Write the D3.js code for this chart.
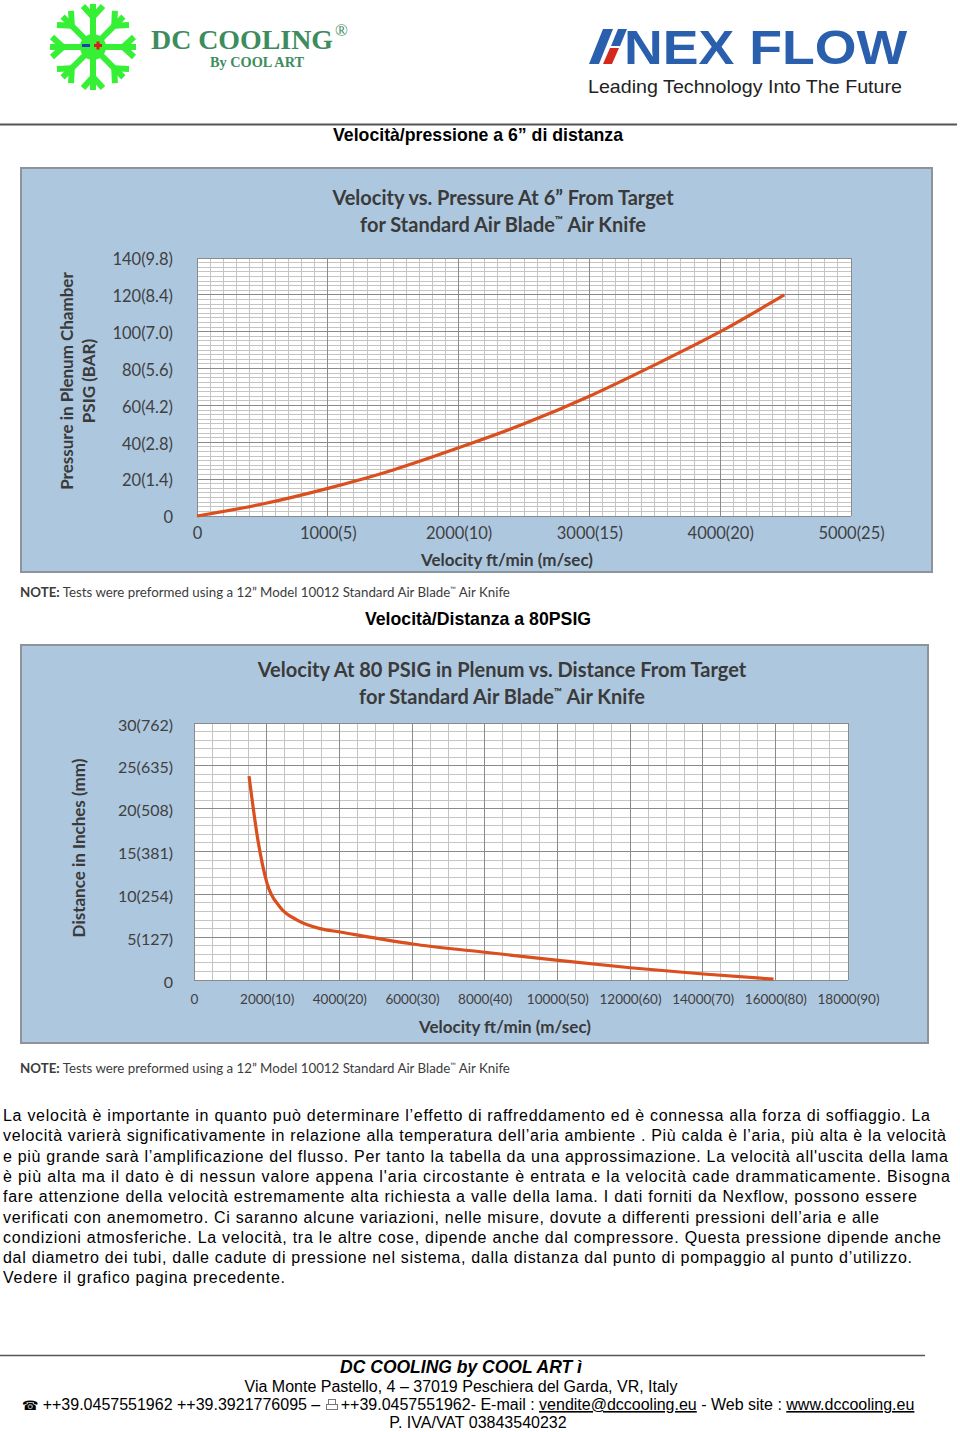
<!DOCTYPE html>
<html><head><meta charset="utf-8">
<script src="https://cdn.jsdelivr.net/npm/d3@7"></script>
<style>body{margin:0;background:#fff} svg{display:block}</style>
</head><body>
<script>
// ---------- DATA ----------
const velocity1 = [0, 500, 1000, 1500, 2000, 2500, 3000, 3500, 4000, 4490];
const pressure1 = [0, 6.5, 15, 25, 37, 50, 65, 82, 100, 120];
const xTicks1 = [0, 1000, 2000, 3000, 4000, 5000];
const xLabels1 = ["0", "1000(5)", "2000(10)", "3000(15)", "4000(20)", "5000(25)"];
const yTicks1 = [0, 20, 40, 60, 80, 100, 120, 140];
const yLabels1 = ["0", "20(1.4)", "40(2.8)", "60(4.2)", "80(5.6)", "100(7.0)", "120(8.4)", "140(9.8)"];

const velocity2 = [1515, 1760, 2010, 2370, 2840, 3470, 4020, 5320, 6010, 7880, 10030, 12010, 14020, 15950];
const distance2 = [23.8, 16.3, 11.3, 8.5, 7.0, 6.0, 5.6, 4.65, 4.2, 3.3, 2.3, 1.43, 0.7, 0.1];
const xTicks2 = [0, 2000, 4000, 6000, 8000, 10000, 12000, 14000, 16000, 18000];
const xLabels2 = ["0", "2000(10)", "4000(20)", "6000(30)", "8000(40)", "10000(50)", "12000(60)", "14000(70)", "16000(80)", "18000(90)"];
const yTicks2 = [0, 5, 10, 15, 20, 25, 30];
const yLabels2 = ["0", "5(127)", "10(254)", "15(381)", "20(508)", "25(635)", "30(762)"];

const bodyLines = [
 "La velocità è importante in quanto può determinare l’effetto di raffreddamento ed è connessa alla forza di soffiaggio. La",
 "velocità varierà significativamente in relazione alla temperatura dell’aria ambiente . Più calda è l’aria, più alta è la velocità",
 "e più grande sarà l’amplificazione del flusso. Per tanto la tabella da una approssimazione. La velocità all'uscita della lama",
 "è più alta ma il dato è di nessun valore appena l'aria circostante è entrata e la velocità cade drammaticamente. Bisogna",
 "fare attenzione della velocità estremamente alta richiesta a valle  della lama. I dati forniti da Nexflow, possono essere",
 "verificati con anemometro. Ci saranno alcune variazioni, nelle misure, dovute a differenti pressioni dell’aria e alle",
 "condizioni atmosferiche. La velocità, tra le altre cose, dipende anche dal compressore. Questa pressione dipende anche",
 "dal diametro dei tubi, dalle cadute di pressione nel sistema, dalla distanza dal punto di pompaggio al punto d’utilizzo.",
 "Vedere il grafico pagina precedente."
];
const bodyEnds = [930, 946, 948, 950, 917, 879, 941, 912, 285];

// ---------- PAGE ----------
const svg = d3.select("body").append("svg").attr("width", 960).attr("height", 1432)
  .style("font-family", "'Liberation Sans', Arial, sans-serif");

// Header logos
const flake = svg.append("g").attr("transform", "translate(93,47)")
  .attr("stroke", "#35f035").attr("stroke-width", 6).attr("stroke-linecap", "butt").attr("fill", "none");
d3.range(8).forEach(i => {
  const g = flake.append("g").attr("transform", `rotate(${i * 45})`);
  g.append("line").attr("x1", 0).attr("y1", 0).attr("x2", 0).attr("y2", -43);
  g.append("line").attr("x1", 0).attr("y1", -30).attr("x2", -10).attr("y2", -41);
  g.append("line").attr("x1", 0).attr("y1", -30).attr("x2", 10).attr("y2", -41);
});
flake.append("circle").attr("r", 13).attr("fill", "#35f035").attr("stroke", "none");
svg.append("rect").attr("x", 82).attr("y", 44).attr("width", 8).attr("height", 3).attr("fill", "#1d3fb8");
svg.append("rect").attr("x", 94).attr("y", 44).attr("width", 8).attr("height", 3).attr("fill", "#d81d1d");
svg.append("rect").attr("x", 96.5).attr("y", 41.5).attr("width", 3).attr("height", 8).attr("fill", "#d81d1d");

svg.append("text").attr("x", 151).attr("y", 49).attr("font-family", "'Liberation Serif', 'Times New Roman', serif")
  .attr("font-weight", "bold").attr("font-size", 28).attr("fill", "#3d8c5e")
  .attr("textLength", 182).attr("lengthAdjust", "spacingAndGlyphs").text("DC COOLING");
svg.append("text").attr("x", 335).attr("y", 36).attr("font-family", "'Liberation Serif', serif")
  .attr("font-size", 17).attr("fill", "#3d8c5e").text("®");
svg.append("text").attr("x", 210).attr("y", 67).attr("font-family", "'Liberation Serif', serif")
  .attr("font-weight", "bold").attr("font-size", 14).attr("fill", "#3d8c5e")
  .attr("textLength", 94).attr("lengthAdjust", "spacingAndGlyphs").text("By COOL ART");

// NEX FLOW logo
svg.append("polygon").attr("points", "589,64 599,64 613,29 603,29").attr("fill", "#2a5fae");
svg.append("polygon").attr("points", "603,64 612,64 619,48 610,48").attr("fill", "#d42a1e");
svg.append("polygon").attr("points", "611,46 620,46 627,29 618,29").attr("fill", "#2a5fae");
svg.append("text").attr("x", 624).attr("y", 64).attr("font-weight", "bold").attr("font-size", 49)
  .attr("fill", "#2a5fae").attr("textLength", 283).attr("lengthAdjust", "spacingAndGlyphs").text("NEX FLOW");
svg.append("text").attr("x", 588).attr("y", 93).attr("font-size", 19).attr("fill", "#222")
  .attr("textLength", 314).attr("lengthAdjust", "spacingAndGlyphs").text("Leading Technology Into The Future");

svg.append("line").attr("x1", 0).attr("x2", 957).attr("y1", 124.5).attr("y2", 124.5).attr("stroke", "#555").attr("stroke-width", 2);

svg.append("text").attr("x", 478).attr("y", 141).attr("text-anchor", "middle").attr("font-weight", "bold")
  .attr("font-size", 17.7).text("Velocità/pressione a 6” di distanza");
svg.append("text").attr("x", 478).attr("y", 625).attr("text-anchor", "middle").attr("font-weight", "bold")
  .attr("font-size", 17.7).text("Velocità/Distanza a 80PSIG");

// ---------- CHART FUNCTION ----------
const chartFont = "Lato, 'Open Sans', sans-serif";
function drawChart(c) {
  const g = svg.append("g").style("font-family", chartFont);
  g.append("rect").attr("x", c.panel[0]).attr("y", c.panel[1]).attr("width", c.panel[2] - c.panel[0])
    .attr("height", c.panel[3] - c.panel[1]).attr("fill", "#adc7df").attr("stroke", "#8e9399").attr("stroke-width", 2);

  const x = d3.scaleLinear().domain(c.xDomain).range(c.xRange);
  const y = d3.scaleLinear().domain(c.yDomain).range(c.yRange);

  g.append("rect").attr("x", c.xRange[0]).attr("y", c.yRange[1]).attr("width", c.xRange[1] - c.xRange[0])
    .attr("height", c.yRange[0] - c.yRange[1]).attr("fill", "#fff");

  const grid = g.append("g").attr("shape-rendering", "crispEdges");
  const minorX = d3.range(c.xDomain[0], c.xDomain[1] + 1e-9, c.minorX);
  const minorY = d3.range(c.yDomain[0], c.yDomain[1] + 1e-9, c.minorY);
  grid.selectAll(".mx").data(minorX).join("line").attr("x1", d => x(d)).attr("x2", d => x(d))
    .attr("y1", c.yRange[0]).attr("y2", c.yRange[1]).attr("stroke", "#c4c4c4").attr("stroke-width", 1);
  grid.selectAll(".my").data(minorY).join("line").attr("y1", d => y(d)).attr("y2", d => y(d))
    .attr("x1", c.xRange[0]).attr("x2", c.xRange[1]).attr("stroke", "#c4c4c4").attr("stroke-width", 1);
  const majorX = d3.range(c.xDomain[0], c.xDomain[1] + 1e-9, c.majorX);
  const majorY = d3.range(c.yDomain[0], c.yDomain[1] + 1e-9, c.majorY);
  grid.selectAll(".Mx").data(majorX).join("line").attr("x1", d => x(d)).attr("x2", d => x(d))
    .attr("y1", c.yRange[0]).attr("y2", c.yRange[1]).attr("stroke", "#8a8a8a").attr("stroke-width", 1);
  grid.selectAll(".My").data(majorY).join("line").attr("y1", d => y(d)).attr("y2", d => y(d))
    .attr("x1", c.xRange[0]).attr("x2", c.xRange[1]).attr("stroke", "#8a8a8a").attr("stroke-width", 1);

  const pts = c.xs.map((v, i) => [v, c.ys[i]]);
  g.append("path").datum(pts).attr("fill", "none").attr("stroke", "#da4f1d").attr("stroke-width", 3.2)
    .attr("d", d3.line().x(d => x(d[0])).y(d => y(d[1])).curve(d3.curveMonotoneX));

  const xa = g.append("g").attr("transform", `translate(0,${c.xAxisY})`)
    .call(d3.axisBottom(x).tickValues(c.xTicks).tickSize(0).tickPadding(0).tickFormat((d, i) => c.xLabels[i]));
  xa.select(".domain").remove();
  xa.selectAll("text").attr("font-family", chartFont).attr("font-size", c.xFont).attr("fill", "#404040").attr("dy", "0.35em");

  const ya = g.append("g").attr("transform", `translate(${c.yAxisX},0)`)
    .call(d3.axisLeft(y).tickValues(c.yTicks).tickSize(0).tickPadding(0).tickFormat((d, i) => c.yLabels[i]));
  ya.select(".domain").remove();
  ya.selectAll("text").attr("font-family", chartFont).attr("font-size", c.yFont).attr("fill", "#404040")
    .attr("transform", `translate(0,${c.yLabelShift})`);

  c.title.forEach((t, i) => {
    const tx = g.append("text").attr("x", c.titleX).attr("y", c.titleY + i * 26.5).attr("text-anchor", "middle")
      .attr("font-weight", "bold").attr("font-size", 20).attr("fill", "#3a3a3a");
    if (i === 0) tx.text(t);
    else {
      tx.append("tspan").text("for Standard Air Blade");
      tx.append("tspan").attr("font-size", 11).attr("dy", -8).text("™");
      tx.append("tspan").attr("dy", 8).text(" Air Knife");
    }
  });
  g.append("text").attr("x", c.xTitleX).attr("y", c.xTitleY).attr("text-anchor", "middle").attr("font-weight", "bold")
    .attr("font-size", 17).attr("fill", "#3a3a3a").text("Velocity ft/min (m/sec)");
  c.yTitle.forEach((t, i) => {
    g.append("text").attr("transform", `translate(${c.yTitleX[i]},${c.yTitleY}) rotate(-90)`).attr("text-anchor", "middle")
      .attr("font-weight", "bold").attr("font-size", 17).attr("fill", "#3a3a3a").text(t);
  });

  const note = g.append("text").attr("x", 20).attr("y", c.noteY).attr("font-size", 13.3).attr("fill", "#3c3c3c");
  note.append("tspan").attr("font-weight", "bold").text("NOTE:");
  note.append("tspan").text(" Tests were preformed using a 12” Model 10012 Standard Air Blade");
  note.append("tspan").attr("font-size", 7.5).attr("dy", -5).text("™");
  note.append("tspan").attr("dy", 5).text(" Air Knife");
}

drawChart({
  panel: [21, 168, 932, 572],
  xDomain: [0, 5000], xRange: [197, 851],
  yDomain: [0, 140], yRange: [516, 258],
  minorX: 100, majorX: 1000, minorY: 2.5, majorY: 20,
  xs: velocity1, ys: pressure1,
  xTicks: xTicks1, xLabels: xLabels1, yTicks: yTicks1, yLabels: yLabels1,
  xAxisY: 533, xFont: 16.5, yAxisX: 173, yFont: 16.5, yLabelShift: 1.5,
  title: ["Velocity vs. Pressure At 6” From Target", "for Standard Air Blade™ Air Knife"],
  titleX: 503, titleY: 205,
  xTitleX: 507, xTitleY: 566,
  yTitle: ["Pressure in Plenum Chamber", "PSIG (BAR)"], yTitleX: [73, 95], yTitleY: 381,
  noteY: 597
});

drawChart({
  panel: [21, 645, 928, 1043],
  xDomain: [0, 18000], xRange: [194, 848],
  yDomain: [0, 30], yRange: [980, 723],
  minorX: 500, majorX: 2000, minorY: 1, majorY: 5,
  xs: velocity2, ys: distance2,
  xTicks: xTicks2, xLabels: xLabels2, yTicks: yTicks2, yLabels: yLabels2,
  xAxisY: 999, xFont: 13.5, yAxisX: 173, yFont: 16, yLabelShift: 2,
  title: ["Velocity At 80 PSIG in Plenum vs. Distance From Target", "for Standard Air Blade™ Air Knife"],
  titleX: 502, titleY: 677,
  xTitleX: 505, xTitleY: 1033,
  yTitle: ["Distance in Inches (mm)"], yTitleX: [85], yTitleY: 848,
  noteY: 1073
});

// ---------- BODY TEXT ----------
bodyLines.forEach((t, i) => {
  svg.append("text").attr("x", 3).attr("y", 1121 + i * 20.3).attr("font-size", 16).attr("fill", "#000")
    .attr("textLength", bodyEnds[i] - 3).attr("lengthAdjust", "spacing").text(t);
});

// ---------- FOOTER ----------
svg.append("line").attr("x1", 0).attr("x2", 925).attr("y1", 1355.5).attr("y2", 1355.5).attr("stroke", "#555").attr("stroke-width", 1.5);
svg.append("text").attr("x", 461).attr("y", 1373).attr("text-anchor", "middle").attr("font-weight", "bold")
  .attr("font-style", "italic").attr("font-size", 17.5).text("DC COOLING by COOL ART ì");
svg.append("text").attr("x", 461).attr("y", 1392).attr("text-anchor", "middle").attr("font-size", 16)
  .text("Via Monte Pastello, 4 – 37019 Peschiera del Garda, VR,  Italy");
const ph = svg.append("text").attr("x", 22).attr("y", 1410).attr("font-size", 16);
ph.append("tspan").attr("font-family", "'DejaVu Sans'").attr("font-size", 13).text("☎");
ph.append("tspan").text(" ++39.0457551962 ++39.3921776095 – ");
ph.append("tspan").attr("fill", "#fff").text("\u2003");
ph.append("tspan").text("++39.0457551962- E-mail : ");
ph.append("tspan").attr("text-decoration", "underline").text("vendite@dccooling.eu");
ph.append("tspan").text(" - Web site : ");
ph.append("tspan").attr("text-decoration", "underline").text("www.dccooling.eu");
// fax icon
const fx = svg.append("g").attr("fill", "none").attr("stroke", "#777").attr("stroke-width", 1);
fx.append("rect").attr("x", 328.5).attr("y", 1399.5).attr("width", 7).attr("height", 5);
fx.append("rect").attr("x", 326.5).attr("y", 1404.5).attr("width", 11).attr("height", 5);
svg.append("text").attr("x", 478).attr("y", 1428).attr("text-anchor", "middle").attr("font-size", 16)
  .text("P. IVA/VAT 03843540232");
</script>
</body></html>
